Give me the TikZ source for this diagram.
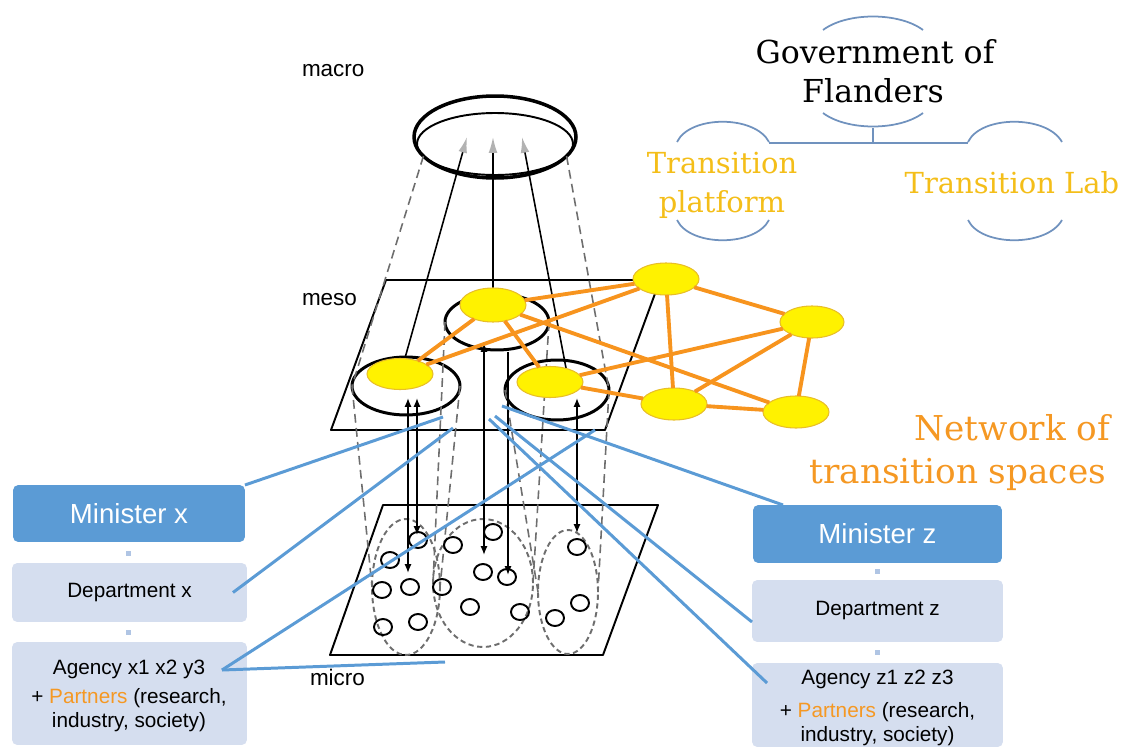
\documentclass[tikz,border=0pt]{standalone}
\usepackage{fontspec}
\setmainfont{Liberation Sans}
\newfontfamily\slabfont{DejaVu Serif}
\usetikzlibrary{arrows.meta,shapes.geometric}

\definecolor{boxblue}{RGB}{91,155,213}
\definecolor{boxlight}{RGB}{213,222,239}
\definecolor{dotblue}{RGB}{176,197,228}
\definecolor{linkblue}{RGB}{91,155,213}
\definecolor{netorange}{RGB}{247,148,30}
\definecolor{nodeedge}{RGB}{232,190,40}
\definecolor{goldtext}{RGB}{244,190,25}
\definecolor{orangetext}{RGB}{245,152,35}
\definecolor{arcblue}{RGB}{112,146,190}
\definecolor{projgray}{RGB}{110,110,110}

\begin{document}
\begin{tikzpicture}[x=0.02cm,y=-0.02cm,
  every node/.style={inner sep=0pt,outer sep=0pt},
  plane/.style={draw=black,line width=1.1pt,line join=round},
  proj/.style={draw=projgray,line width=0.9pt,dash pattern=on 5pt off 3pt},
  microell/.style={ellipse,draw=projgray,line width=1.1pt,dash pattern=on 3pt off 2pt},
  mesoell/.style={ellipse,draw=black,line width=1.7pt},
  agent/.style={ellipse,draw=black,line width=1.1pt,minimum width=0.36cm,minimum height=0.32cm},
  netnode/.style={ellipse,draw=nodeedge,fill=yellow,line width=0.6pt,minimum width=1.32cm,minimum height=0.62cm},
  netedge/.style={draw=netorange,line width=2.2pt},
  rise/.style={draw=black,line width=0.9pt,-{Latex[length=9pt,width=5pt,color=gray!60]}},
  both/.style={draw=black,line width=0.9pt,{Latex[length=5pt,width=4pt]}-{Latex[length=5pt,width=4pt]}},
  down/.style={draw=black,line width=0.9pt,-{Latex[length=5pt,width=4pt]}},
  link/.style={draw=linkblue,line width=1.7pt},
  headbox/.style={rectangle,rounded corners=3pt,fill=boxblue,text=white,font=\fontsize{15.7}{18}\selectfont},
  subbox/.style={rectangle,rounded corners=3pt,fill=boxlight,align=center,font=\fontsize{11.8}{13.5}\selectfont},
  boxtext/.style={align=center,font=\fontsize{11.8}{13.5}\selectfont},
  joint/.style={rectangle,fill=dotblue,minimum width=0.1cm,minimum height=0.1cm},
  level/.style={anchor=base west,font=\fontsize{12.8}{15}\selectfont},
  arcline/.style={draw=arcblue,line width=1pt},
  govtext/.style={anchor=base,font=\slabfont\fontsize{18}{21}\selectfont},
  spacetext/.style={anchor=base,text=goldtext,font=\slabfont\fontsize{16.5}{19}\selectfont},
  nettext/.style={anchor=base east,text=orangetext,font=\slabfont\fontsize{19.5}{23}\selectfont}]
\useasboundingbox (0,0) rectangle (1127,747);

% ---- the two planes ----
\draw[plane] (386,280) -- (660,280) -- (605,430) -- (331,430) -- cycle;
\draw[plane] (383,505) -- (658,505) -- (603,655) -- (330,655) -- cycle;

% ---- macro landscape ----
\node[ellipse,draw=black,line width=2pt,minimum width=3.24cm,minimum height=1.64cm] (mac) at (495,137) {};
\node[ellipse,draw=black,line width=1.1pt,minimum width=3.12cm,minimum height=1.24cm] (macin) at (495,144) {};

% ---- meso regimes ----
\node[mesoell,minimum width=2.16cm,minimum height=1.16cm] (mL) at (406,386) {};
\node[mesoell,minimum width=2.08cm,minimum height=1.12cm] (mM) at (497,322) {};
\node[mesoell,minimum width=2.08cm,minimum height=1.20cm] (mR) at (557,390) {};

% ---- micro niches ----
\node[microell,minimum width=1.36cm,minimum height=2.72cm] (uL) at (406,587) {};
\node[microell,minimum width=2.00cm,minimum height=2.56cm] (uM) at (483,583) {};
\node[microell,minimum width=1.20cm,minimum height=2.48cm] (uR) at (568,592) {};

% ---- projection lines ----
\draw[proj] (mac.195) -- (mL.west);
\draw[proj] (mac.345) -- (mR.east);
\draw[proj] (mL.west) -- (uL.west);
\draw[proj] (mL.east) -- (uL.east);
\draw[proj] (mM.west) -- (uM.west);
\draw[proj] (mM.east) -- (uM.east);
\draw[proj] (mR.west) -- (uR.west);
\draw[proj] (mR.east) -- (uR.east);

% ---- micro agents ----
\foreach \p [count=\i] in {(418,540),(390,560),(382,590),(410,587),(442,587),
  (453,545),(493,532),(483,572),(507,577),(470,607),(383,627),(418,622),
  (520,612),(577,547),(580,603),(555,618)}
  \node[agent] (c\i) at \p {};

% ---- interactions between levels ----
\coordinate (rL) at (405,358);
\coordinate (rM) at (493,290);
\coordinate (rR) at (566,368);
\coordinate (tL) at (467,137);
\coordinate (tM) at (493,137);
\coordinate (tR) at (522,137);
\draw[rise] (rL) -- (tL);
\draw[rise] (rM) -- (tM);
\draw[rise] (rR) -- (tR);

\draw[both] (408,398) -- (408,573);
\draw[both] (417,398) -- (417,535);
\draw[both] (484,343) -- (484,555);
\draw[down] (508,352) -- (508,575);
\draw[both] (577,398) -- (577,533);

% ---- network of transition spaces ----
\node[netnode] (y1) at (400,374) {};
\node[netnode,minimum height=0.68cm] (y2) at (493,305) {};
\node[netnode] (y3) at (550,382) {};
\node[netnode,minimum height=0.64cm] (y4) at (666,279) {};
\node[netnode,minimum width=1.28cm,minimum height=0.64cm] (y5) at (812,322) {};
\node[netnode,minimum height=0.64cm] (y6) at (674,404) {};
\node[netnode,minimum height=0.64cm] (y7) at (796,412) {};
\foreach \a/\b in {y1/y2,y1/y4,y2/y4,y2/y3,y2/y7,y3/y5,y3/y6,y4/y5,y4/y6,y5/y6,y5/y7,y6/y7}
  \draw[netedge] (\a) -- (\b);

% ---- level labels ----
\node[level] (lmacro) at (302,76) {macro};
\node[level] (lmeso) at (302,305) {meso};
\node[level] (lmicro) at (310,685) {micro};

% ---- left administration ----
\node[headbox,minimum width=4.64cm,minimum height=1.14cm] (mx) at (129,513.5) {Minister x};
\node[joint] (jx1) at (128,553) {};
\node[subbox,minimum width=4.70cm,minimum height=1.18cm] (dx) at (129.5,592.5) {Department x};
\node[joint] (jx2) at (128,632) {};
\node[subbox,minimum width=4.70cm,minimum height=2.06cm] (ax) at (129.5,693.5) {};
\node[boxtext] (axt) at (129,696)
  {Agency x1 x2 y3\\[3pt]+ \textcolor{orangetext}{Partners} (research,\\industry, society)};

% ---- right administration ----
\node[headbox,minimum width=4.98cm,minimum height=1.16cm] (mz) at (877.5,534) {Minister z};
\node[joint] (jz1) at (877,571) {};
\node[subbox,minimum width=5.02cm,minimum height=1.24cm] (dz) at (877.5,611) {Department z};
\node[joint] (jz2) at (877,652) {};
\node[subbox,minimum width=5.02cm,minimum height=1.68cm] (az) at (877.5,705) {};
\node[boxtext] (azt) at (877.5,708)
  {Agency z1 z2 z3\\[5pt]+ \textcolor{orangetext}{Partners} (research,\\industry, society)};

% ---- links from administrations to spaces ----
\coordinate (pmx) at (443,417);
\coordinate (pdx) at (453,428);
\coordinate (pax) at (595,430);
\coordinate (pax2) at (445,662);
\coordinate (pmz) at (502,406);
\coordinate (pdz) at (495,416);
\coordinate (paz) at (489,419);
\draw[link] (mx.north east) -- (pmx);
\draw[link] ([xshift=-0.28cm]dx.east) -- (pdx);
\draw[link] ([xshift=-0.5cm,yshift=0.47cm]ax.east) -- (pax);
\draw[link] ([xshift=-0.5cm,yshift=0.47cm]ax.east) -- (pax2);
\draw[link] ([xshift=0.6cm]mz.north west) -- (pmz);
\draw[link] ([yshift=-0.22cm]dz.west) -- (pdz);
\draw[link] ([xshift=0.3cm,yshift=-0.4cm]az.north west) -- (paz);

% ---- governance scheme ----
\draw[arcline] (823,30) .. controls (847,12) and (899,12) .. (923,30);
\draw[arcline] (823,113) .. controls (847,131) and (899,131) .. (923,113);
\draw[arcline] (677,142) .. controls (690,115) and (755,115) .. (769,142);
\draw[arcline] (677,220) .. controls (690,247) and (755,247) .. (769,220);
\draw[arcline] (968,142) .. controls (981,115) and (1047,115) .. (1062,142);
\draw[arcline] (968,220) .. controls (981,247) and (1047,247) .. (1062,220);
\coordinate (gfoot) at (873,128);
\coordinate (gjoin) at (873,143);
\coordinate (gleft) at (769,143);
\coordinate (gright) at (968,143);
\draw[arcline] (gfoot) -- (gjoin);
\draw[arcline] (gleft) -- (gright);

\node[govtext] (gov1) at (875,63) {Government of};
\node[govtext] (gov2) at (873,102) {Flanders};
\node[spacetext] (tp1) at (722,173) {Transition};
\node[spacetext] (tp2) at (722,212) {platform};
\node[spacetext] (tl) at (1012,193) {Transition Lab};
\node[nettext] (nw1) at (1110,440) {Network of};
\node[nettext] (nw2) at (1106,483) {transition spaces};
\end{tikzpicture}
\end{document}
